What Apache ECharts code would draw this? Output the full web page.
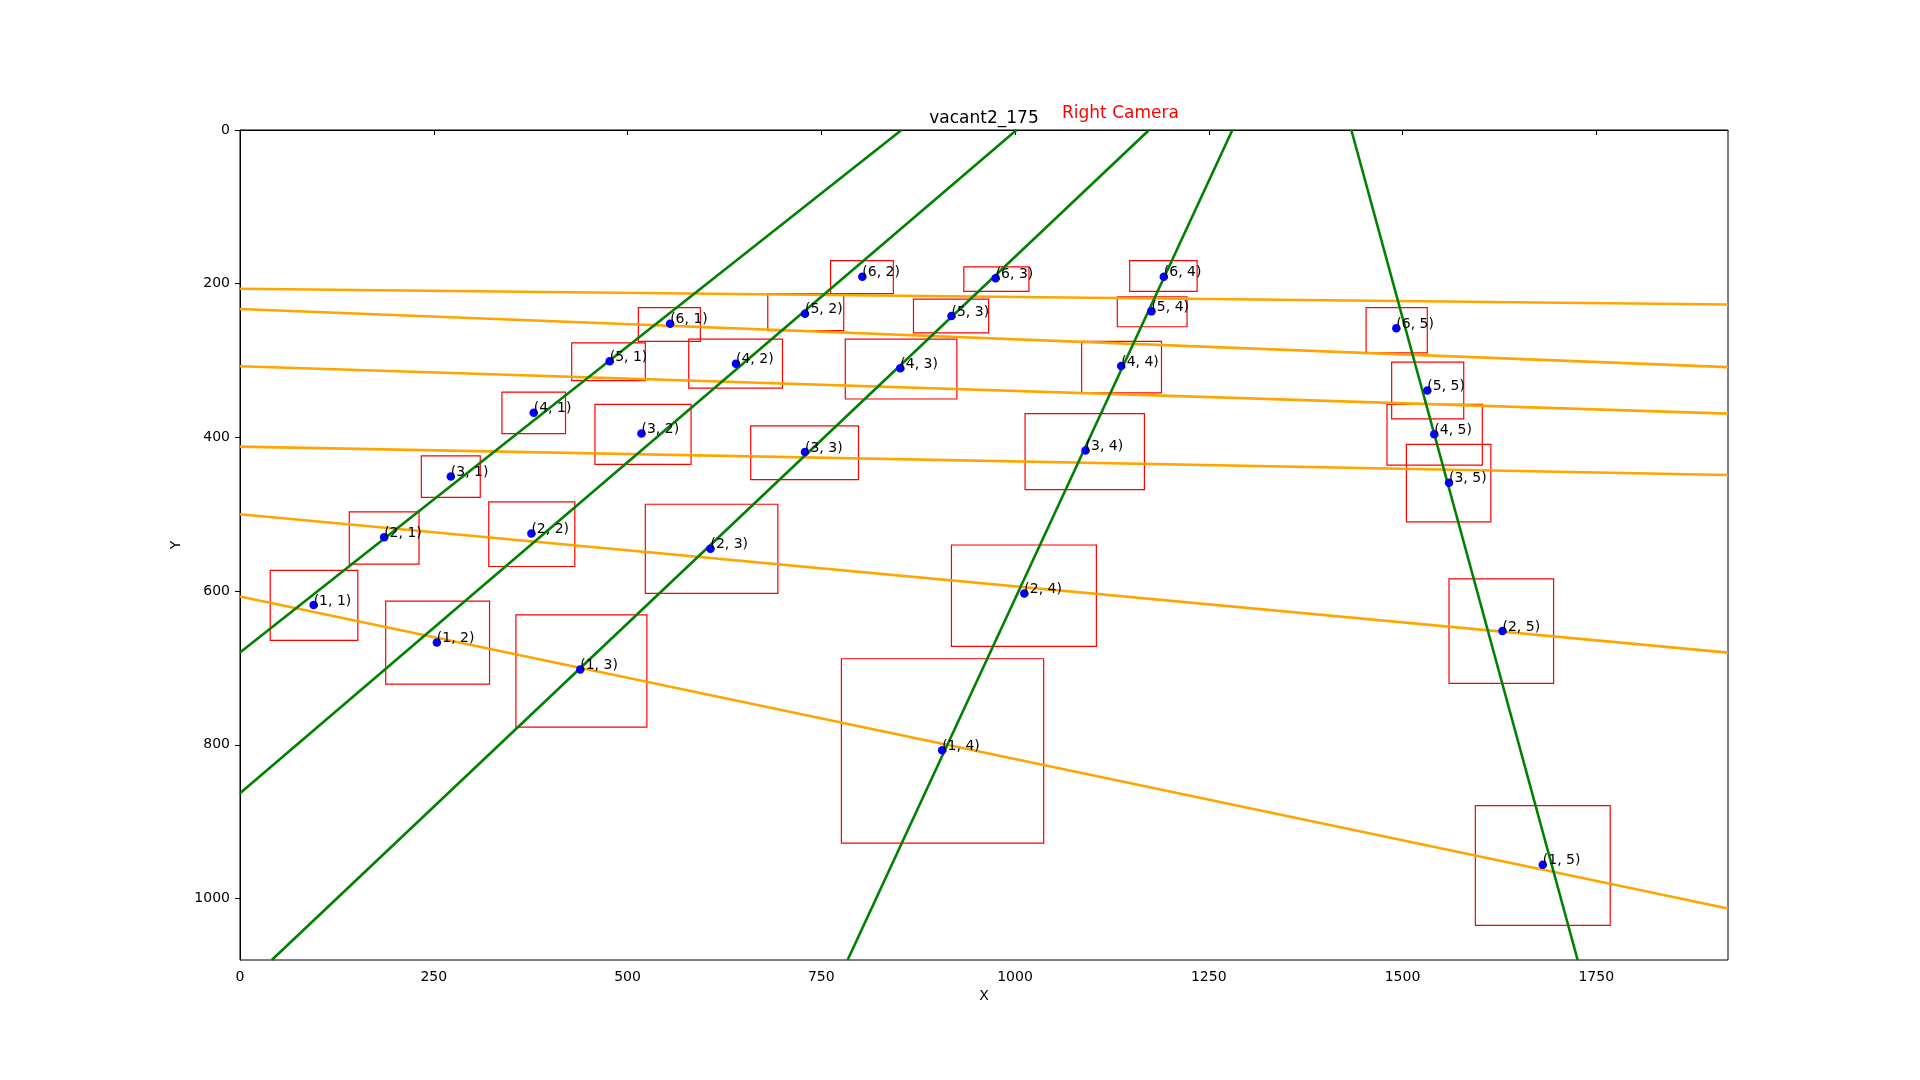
<!DOCTYPE html>
<html><head><meta charset="utf-8">
<script src="https://cdn.jsdelivr.net/npm/echarts@6/dist/echarts.min.js"></script>
<style>html,body{margin:0;padding:0;background:#fff}#c{width:1920px;height:1080px}</style>
</head><body><div id="c"></div>
<script>
const FONT = 'DejaVu Sans';
const rowIds = [1, 2, 3, 4, 5, 6];
const colIds = [1, 2, 3, 4, 5];
const xTicks = [0, 250, 500, 750, 1000, 1250, 1500, 1750];
const yTicks = [0, 200, 400, 600, 800, 1000];

// detected centres, per column, rows 1..6
const col1X = [95, 186, 272, 379, 477, 555];
const col1Y = [618, 530, 451, 368, 301, 252];
const col2X = [254, 376, 518, 640, 729, 803];
const col2Y = [667, 525, 395, 304, 239, 191];
const col3X = [439, 607, 729, 852, 918, 975];
const col3Y = [702, 545, 419, 310, 242, 193];
const col4X = [906, 1012, 1091, 1137, 1176, 1192];
const col4Y = [807, 603, 417, 307, 236, 191];
const col5X = [1681, 1629, 1560, 1541, 1532, 1492];
const col5Y = [956, 652, 459, 396, 339, 258];

// boxes [x1, y1, x2, y2], per column, rows 1..6
const col1Boxes = [[39, 573, 152, 664], [141, 497, 231, 565], [234, 424, 310, 478], [338, 341, 420, 395], [428, 277, 523, 326], [514, 231, 594, 275]];
const col2Boxes = [[188, 613, 322, 721], [321, 484, 432, 568], [458, 357, 582, 435], [579, 272, 700, 336], [681, 213, 779, 261], [762, 170, 843, 213]];
const col3Boxes = [[356, 631, 525, 777], [523, 487, 694, 603], [659, 385, 798, 455], [781, 272, 925, 350], [869, 220, 966, 264], [934, 178, 1018, 210]];
const col4Boxes = [[776, 688, 1037, 928], [918, 540, 1105, 672], [1013, 369, 1167, 468], [1086, 275, 1189, 342], [1132, 217, 1222, 256], [1148, 170, 1235, 210]];
const col5Boxes = [[1594, 879, 1768, 1035], [1560, 584, 1695, 720], [1505, 409, 1614, 510], [1480, 357, 1603, 436], [1486, 302, 1579, 376], [1453, 231, 1532, 290]];

// fitted column lines (two end points each)
const colLine1 = [[0, 680], [853.6, 0]];
const colLine2 = [[0, 863], [1002, 0]];
const colLine3 = [[41, 1080], [1173, 0]];
const colLine4 = [[784, 1080], [1280.5, 0]];
const colLine5 = [[1434, 0], [1726, 1080]];

// fitted row lines: y at x=0 and y at x=1920
const rowLineLeftY = [607, 500, 412, 307.5, 233, 206.5];
const rowLineRightY = [1013, 680, 449, 369, 308.5, 227];

const colXs = [col1X, col2X, col3X, col4X, col5X];
const colYs = [col1Y, col2Y, col3Y, col4Y, col5Y];
const colBoxes = [col1Boxes, col2Boxes, col3Boxes, col4Boxes, col5Boxes];
const colLines = [colLine1, colLine2, colLine3, colLine4, colLine5];

const points = [];
const boxes = [];
colIds.forEach((c, ci) => {
  rowIds.forEach((r, ri) => {
    points.push({ name: '(' + r + ', ' + c + ')', value: [colXs[ci][ri], colYs[ci][ri]] });
    boxes.push(colBoxes[ci][ri]);
  });
});

const series = [];
series.push({
  type: 'custom',
  name: 'boxes',
  z: 2,
  clip: true,
  encode: { x: [0, 2], y: [1, 3] },
  data: boxes,
  renderItem: function (params, api) {
    const p1 = api.coord([api.value(0), api.value(1)]);
    const p2 = api.coord([api.value(2), api.value(3)]);
    return {
      type: 'rect',
      shape: { x: Math.min(p1[0], p2[0]), y: Math.min(p1[1], p2[1]), width: Math.abs(p2[0] - p1[0]), height: Math.abs(p2[1] - p1[1]) },
      style: { fill: 'none', stroke: '#ff0000', lineWidth: 1.2 }
    };
  }
});
rowIds.forEach((r, ri) => {
  series.push({
    type: 'line', z: 3, symbol: 'none', clip: true, silent: true,
    lineStyle: { color: '#ffa500', width: 2.6 },
    data: [[0, rowLineLeftY[ri]], [1920, rowLineRightY[ri]]]
  });
});
colIds.forEach((c, ci) => {
  series.push({
    type: 'line', z: 3, symbol: 'none', clip: true, silent: true,
    lineStyle: { color: '#008000', width: 2.6 },
    data: colLines[ci]
  });
});
series.push({
  type: 'scatter', z: 5,
  symbol: 'circle', symbolSize: 8.5,
  itemStyle: { color: '#0000ff', opacity: 1 },
  data: points,
  label: {
    show: true, formatter: '{b}', position: 'inside',
    align: 'left', verticalAlign: 'bottom', offset: [0, 3],
    color: '#000', fontFamily: FONT, fontSize: 14
  }
});

const plain = function (v) { return String(v); };

const chart = echarts.init(document.getElementById('c'), null, { renderer: 'canvas' });
chart.setOption({
  animation: false,
  backgroundColor: '#fff',
  title: [
    { text: 'vacant2_175', left: 984, top: 110, textAlign: 'center', padding: 0,
      textStyle: { fontFamily: FONT, fontSize: 17, fontWeight: 'normal', color: '#000' } },
    { text: 'Right Camera', left: 1062, top: 105, padding: 0,
      textStyle: { fontFamily: FONT, fontSize: 17, fontWeight: 'normal', color: '#ff0000' } }
  ],
  grid: { left: 240, right: 192, top: 130, bottom: 120, show: true, borderColor: '#000', borderWidth: 1, backgroundColor: 'transparent' },
  xAxis: {
    type: 'value', min: 0, max: 1920, interval: 250,
    name: 'X', nameLocation: 'middle', nameGap: 29,
    nameTextStyle: { fontFamily: FONT, fontSize: 14, color: '#000' },
    axisLine: { show: true, lineStyle: { color: '#000', width: 1 } },
    axisTick: { show: true, inside: false, length: 5, lineStyle: { color: '#000' }, customValues: xTicks },
    axisLabel: { show: true, margin: 10, fontFamily: FONT, fontSize: 14, color: '#000', customValues: xTicks, formatter: plain },
    splitLine: { show: false }
  },
  yAxis: {
    type: 'value', min: 0, max: 1080, interval: 200, inverse: true,
    name: 'Y', nameLocation: 'middle', nameGap: 38,
    nameTextStyle: { fontFamily: FONT, fontSize: 14, color: '#000' },
    axisLine: { show: true, lineStyle: { color: '#000', width: 1 } },
    axisTick: { show: true, inside: false, length: 5, lineStyle: { color: '#000' }, customValues: yTicks },
    axisLabel: { show: true, margin: 10, fontFamily: FONT, fontSize: 14, color: '#000', customValues: yTicks, formatter: plain },
    splitLine: { show: false }
  },
  series: series
});
</script>
</body></html>
